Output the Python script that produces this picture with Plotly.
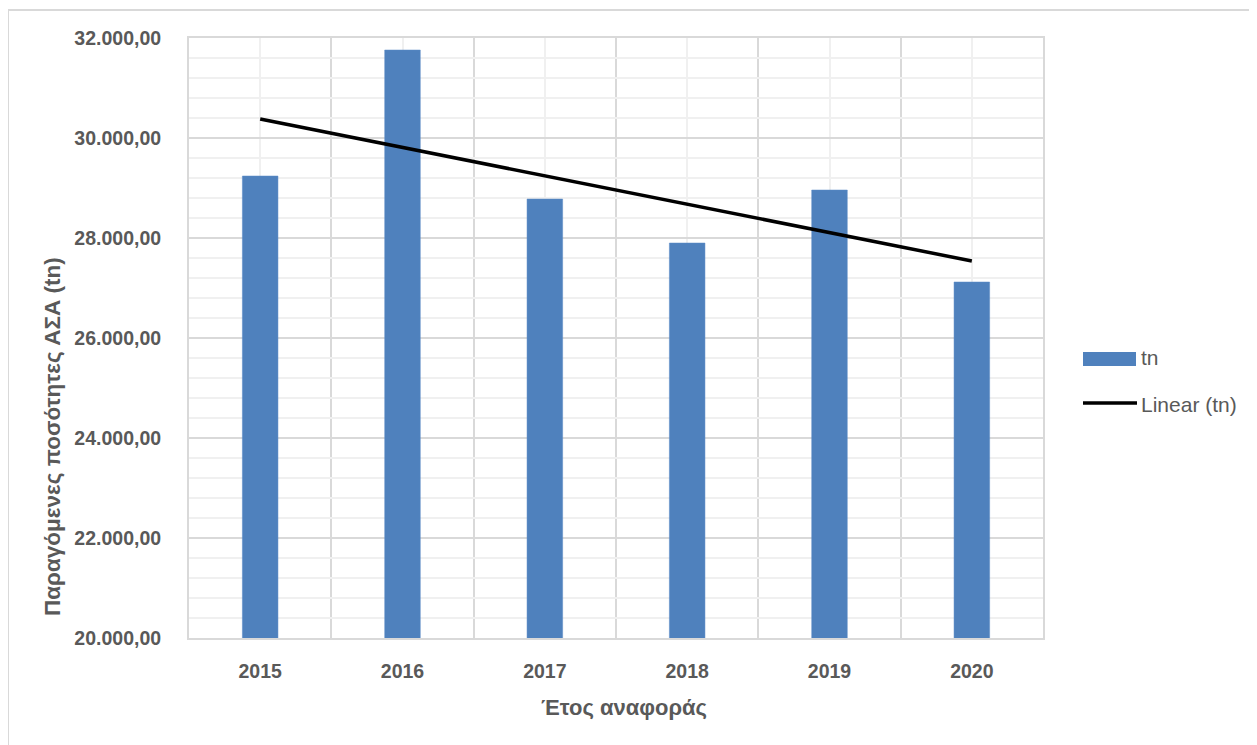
import numpy as np
import plotly.graph_objects as go

# ---- data ----
years = ["2015", "2016", "2017", "2018", "2019", "2020"]
tn = [29240, 31760, 28780, 27900, 28960, 27120]
y_label = "Παραγόμενες ποσότητες ΑΣΑ (tn)"
x_label = "Έτος αναφοράς"
legend_bar = "tn"
legend_line = "Linear (tn)"

W, H = 1257, 745
OFF = 8  # page body margin
L, R, T, B = 189, 1043, 38, 638  # plot area in page pixels


def px(xp):
    return (xp - L) / (R - L)


def py(yp):
    return (B - yp) / (B - T)


xpos = np.arange(len(years))
coef = np.polyfit(xpos + 1, np.array(tn, dtype=float), 1)
trend = np.polyval(coef, xpos + 1)

FONT = "Liberation Sans, Arial, sans-serif"
GRAY = "#595959"

fig = go.Figure()
fig.add_trace(go.Bar(
    x=xpos, y=tn, width=0.25, name=legend_bar,
    marker=dict(color="#4F81BD", line=dict(color="#5A8AC6", width=0.5)),
    showlegend=False,
))
fig.add_trace(go.Scatter(
    x=xpos, y=trend, mode="lines", name=legend_line,
    line=dict(color="black", width=3.5), showlegend=False,
))

fig.update_layout(
    width=W - OFF, height=H - OFF,
    margin=dict(l=L - OFF, r=W - R, t=T - OFF, b=H - B, pad=0),
    paper_bgcolor="white", plot_bgcolor="white",
    separators=",.",
    showlegend=False,
    xaxis=dict(
        range=[-0.5, len(years) - 0.5],
        tickvals=list(xpos), ticktext=years,
        showgrid=True, gridcolor="#F0F0F0", gridwidth=1.5,
        minor=dict(tickvals=[i - 0.5 for i in range(len(years) + 1)],
                   showgrid=True, gridcolor="#D9D9D9", gridwidth=1.5, ticks=""),
        showline=True, linecolor="#D9D9D9", linewidth=2, mirror=True,
        ticks="", ticklabelstandoff=15,
        tickfont=dict(family=FONT, size=19.5, color=GRAY, weight="bold"),
        zeroline=False,
    ),
    yaxis=dict(
        range=[20000, 32000], dtick=2000, tick0=20000,
        tickformat=",.2f",
        showgrid=True, gridcolor="#D9D9D9", gridwidth=1.5,
        minor=dict(dtick=400, showgrid=True, gridcolor="#F0F0F0", gridwidth=1.5, ticks=""),
        showline=True, linecolor="#D9D9D9", linewidth=2, mirror=True,
        ticks="", ticklabelstandoff=22,
        tickfont=dict(family=FONT, size=19.5, color=GRAY, weight="bold"),
        zeroline=False,
    ),
)

# axis titles
fig.add_annotation(
    text=y_label, xref="paper", yref="paper", x=px(52), y=py(437),
    textangle=-90, showarrow=False, xanchor="center", yanchor="middle",
    font=dict(family=FONT, size=22.5, color=GRAY, weight="bold"),
)
fig.add_annotation(
    text=x_label, xref="paper", yref="paper", x=px(624), y=py(707),
    showarrow=False, xanchor="center", yanchor="middle",
    font=dict(family=FONT, size=22, color=GRAY, weight="bold"),
)

# custom legend
fig.add_shape(type="rect", xref="paper", yref="paper",
              x0=px(1083), x1=px(1136), y0=py(366), y1=py(352),
              fillcolor="#4F81BD", line=dict(width=0))
fig.add_annotation(text=legend_bar, xref="paper", yref="paper", x=px(1139), y=py(357),
                   showarrow=False, xanchor="left", yanchor="middle",
                   font=dict(family=FONT, size=21, color=GRAY))
fig.add_shape(type="line", xref="paper", yref="paper",
              x0=px(1083), x1=px(1137), y0=py(403), y1=py(403),
              line=dict(color="black", width=3.5))
fig.add_annotation(text=legend_line, xref="paper", yref="paper", x=px(1139), y=py(404),
                   showarrow=False, xanchor="left", yanchor="middle",
                   font=dict(family=FONT, size=21, color=GRAY))

# outer chart border (top and left visible)
fig.add_shape(type="line", xref="paper", yref="paper",
              x0=px(8), x1=px(1257), y0=py(10), y1=py(10),
              line=dict(color="#D9D9D9", width=2))
fig.add_shape(type="line", xref="paper", yref="paper",
              x0=px(8), x1=px(8), y0=py(10), y1=py(745),
              line=dict(color="#D9D9D9", width=2))

fig.write_html("out.html")
